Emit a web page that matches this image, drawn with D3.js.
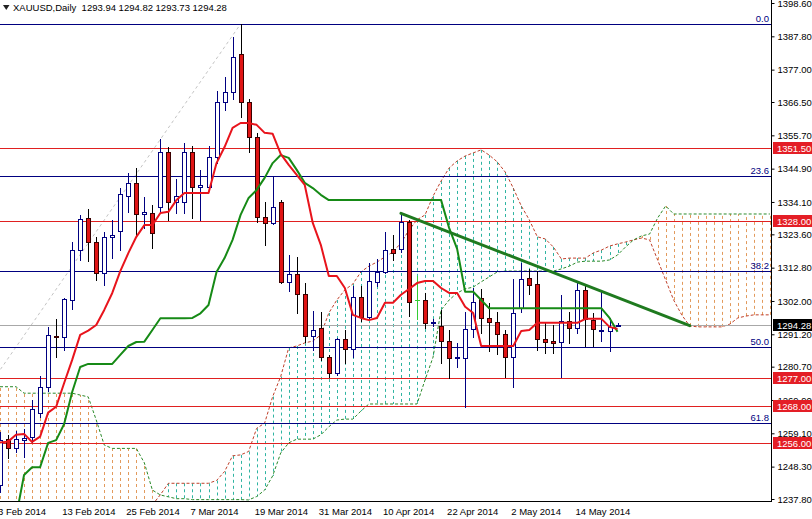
<!DOCTYPE html>
<html><head><meta charset="utf-8">
<script src="https://cdn.jsdelivr.net/npm/d3@7"></script>
<style>
body{margin:0;background:#fff;}
svg{display:block;}
text{font-family:"Liberation Sans",Arial,sans-serif;}
</style>
</head><body>
<svg id="c" width="812" height="519"></svg>
<script>
// ---------- DATA ----------
const headerText = "XAUUSD,Daily  1293.94 1294.82 1293.73 1294.28";
const dates = ["2014-02-03","2014-02-04","2014-02-05","2014-02-06","2014-02-07","2014-02-10","2014-02-11","2014-02-12","2014-02-13","2014-02-14",
"2014-02-17","2014-02-18","2014-02-19","2014-02-20","2014-02-21","2014-02-24","2014-02-25","2014-02-26","2014-02-27","2014-02-28",
"2014-03-03","2014-03-04","2014-03-05","2014-03-06","2014-03-07","2014-03-10","2014-03-11","2014-03-12","2014-03-13","2014-03-14",
"2014-03-17","2014-03-18","2014-03-19","2014-03-20","2014-03-21","2014-03-24","2014-03-25","2014-03-26","2014-03-27","2014-03-28",
"2014-03-31","2014-04-01","2014-04-02","2014-04-03","2014-04-04","2014-04-07","2014-04-08","2014-04-09","2014-04-10","2014-04-11",
"2014-04-14","2014-04-15","2014-04-16","2014-04-17","2014-04-18","2014-04-21","2014-04-22","2014-04-23","2014-04-24","2014-04-25",
"2014-04-28","2014-04-29","2014-04-30","2014-05-01","2014-05-02","2014-05-05","2014-05-06","2014-05-07","2014-05-08","2014-05-09",
"2014-05-12","2014-05-13","2014-05-14","2014-05-15","2014-05-16","2014-05-19","2014-05-20","2014-05-21"];
const openP = [1242.4,1257.3,1254.4,1256.9,1257.9,1265.8,1274.0,1290.8,1290.4,1302.3,
1318.5,1328.8,1321.2,1311.2,1322.6,1324.8,1336.1,1340.2,1330.1,1330.6,
1332.6,1350.2,1334.0,1334.0,1350.2,1339.0,1339.1,1348.6,1366.4,1369.7,
1382.0,1366.4,1355.1,1329.1,1327.2,1334.2,1308.3,1310.7,1304.2,1290.7,
1293.1,1283.8,1278.6,1289.6,1286.3,1303.2,1296.9,1308.0,1311.3,1318.7,
1318.7,1327.5,1302.3,1302.3,1294.8,1293.9,1289.1,1283.4,1283.4,1292.8,
1302.9,1296.4,1295.3,1291.3,1283.9,1299.6,1309.4,1307.5,1289.6,1289.0,
1288.8,1295.5,1293.2,1305.6,1295.8,1292.4,1292.4,1293.94];
const highP = [1259.5,1258.6,1260.0,1260.5,1269.9,1277.7,1293.7,1296.1,1303.0,1321.2,
1329.9,1331.7,1322.8,1324.5,1328.3,1338.6,1343.5,1345.0,1335.8,1333.1,
1354.5,1352.0,1341.5,1353.3,1352.2,1344.5,1352.2,1370.2,1374.5,1387.5,
1391.8,1367.4,1356.4,1334.2,1342.3,1334.7,1316.9,1316.4,1307.7,1298.8,
1298.5,1284.5,1290.0,1292.5,1306.9,1306.9,1314.2,1315.5,1324.3,1323.4,
1330.4,1328.3,1310.0,1304.5,1296.0,1299.1,1292.6,1288.3,1298.5,1306.2,
1305.9,1301.4,1298.5,1292.6,1309.0,1314.2,1312.3,1311.8,1294.8,1294.2,
1303.9,1298.5,1308.3,1307.2,1298.2,1305.0,1296.4,1294.82];
const lowP = [1240.1,1251.0,1253.0,1251.5,1256.3,1264.4,1272.9,1283.8,1286.1,1299.4,
1315.3,1315.0,1308.8,1307.2,1316.0,1318.5,1330.9,1322.8,1325.6,1319.1,
1331.0,1328.3,1330.6,1330.6,1328.8,1328.3,1338.0,1346.6,1364.0,1367.4,
1361.5,1350.4,1327.7,1320.2,1327.0,1307.7,1305.3,1298.0,1288.8,1286.1,
1282.9,1277.5,1278.0,1282.0,1283.8,1295.5,1296.0,1307.0,1311.0,1315.3,
1318.0,1297.0,1296.0,1293.1,1294.0,1281.8,1276.9,1280.7,1267.7,1290.4,
1291.7,1285.9,1284.8,1277.3,1274.0,1298.5,1304.3,1286.1,1285.0,1285.2,
1277.5,1288.5,1291.5,1287.4,1287.4,1289.1,1285.9,1293.73];
const closeP = [1256.9,1254.4,1257.3,1257.6,1267.0,1274.2,1290.9,1290.6,1302.6,1318.5,
1328.5,1321.2,1311.1,1322.6,1323.4,1336.7,1340.2,1330.1,1330.8,1323.9,
1350.2,1334.0,1336.1,1350.2,1338.9,1339.5,1348.6,1366.4,1369.7,1381.0,
1366.4,1355.1,1329.1,1327.2,1332.6,1308.3,1310.7,1304.2,1290.7,1292.6,
1283.8,1278.6,1289.6,1286.3,1303.2,1296.9,1308.5,1311.3,1318.5,1317.5,
1327.5,1301.8,1302.3,1294.8,1295.2,1289.1,1283.4,1283.9,1292.8,1301.8,
1296.4,1295.3,1291.3,1283.9,1298.2,1309.0,1307.2,1289.6,1288.8,1288.5,
1295.5,1293.2,1305.6,1296.1,1292.8,1292.6,1293.5,1294.28];
// Ichimoku
const tenkan = [1256.1,1256.4,1258.6,1258.9,1256.3,1258.0,1265.8,1267.7,1275.4,1282.9,
1291.0,1292.4,1294.2,1299.1,1304.6,1311.7,1317.5,1322.8,1326.6,1326.6,
1330.5,1330.9,1334.7,1337.0,1337.0,1337.0,1337.0,1346.7,1351.9,1358.1,
1359.7,1359.7,1359.1,1356.5,1356.2,1349.7,1346.1,1342.9,1339.6,1327.3,
1320.2,1310.1,1310.1,1306.2,1297.5,1296.5,1295.8,1296.5,1301.4,1301.4,
1304.0,1305.9,1307.8,1308.5,1308.5,1306.2,1304.6,1304.6,1300.1,1298.1,
1287.4,1287.4,1287.4,1287.4,1287.4,1292.3,1292.6,1294.9,1294.9,1294.9,
1294.9,1294.9,1294.9,1296.2,1296.2,1296.2,1293.6,1292.9];
const kijun = [1229.7,1231.2,1232.0,1245.6,1248.1,1248.1,1256.0,1256.9,1262.1,1272.5,
1280.6,1281.6,1281.6,1281.6,1281.6,1284.5,1287.4,1288.7,1288.8,1292.6,
1296.4,1296.4,1296.4,1296.4,1296.5,1298.0,1300.7,1311.4,1315.9,1321.8,
1329.9,1335.4,1338.0,1341.9,1346.7,1349.3,1348.4,1344.5,1340.3,1338.6,
1336.4,1334.7,1334.7,1334.7,1334.7,1334.7,1334.7,1334.7,1334.7,1334.7,
1334.7,1334.7,1334.7,1334.7,1334.7,1334.7,1325.7,1318.9,1305.0,1305.0,
1302.3,1299.6,1299.6,1299.6,1299.6,1299.6,1299.6,1299.6,1299.6,1299.6,
1299.6,1299.6,1299.6,1299.6,1299.6,1299.6,1296.5,1292.0];
// Senkou spans (plotted 26 bars ahead); null = below the visible price range
const spanA = [null,null,null,null,null,null,null,null,null,null,
null,null,null,null,null,null,null,null,null,1235.9,
1239.2,1242.9,1242.9,1242.9,1242.9,1242.9,1242.9,1243.8,1246.7,1251.8,
1252.1,1253.2,1260.7,1262.4,1271.0,1277.5,1286.8,1287.4,1288.4,1289.0,
1291.0,1298.1,1302.3,1305.6,1307.5,1311.4,1313.3,1314.6,1316.3,1317.9,
1320.8,1325.0,1328.3,1329.9,1336.0,1340.9,1345.1,1347.4,1349.0,1350.0,
1351.0,1349.3,1347.1,1343.8,1338.6,1332.8,1328.3,1322.8,1322.1,1319.5,
1315.6,1315.9,1315.9,1315.9,1317.6,1318.5,1319.8,1320.5,1321.1,1321.8,
1322.4,1321.8,1315.3,1308.8,1302.3,1297.5,1293.9,1293.6,1293.6,1293.6,
1293.6,1294.5,1296.5,1297.1,1297.5,1297.5,1297.5];
const spanB = [1274.2,1274.2,1274.2,1272.1,1272.1,1272.1,1272.1,1272.1,1272.1,1272.1,
1271.5,1270.9,1263.4,1255.3,1254.2,1254.2,1254.2,1254.2,1249.5,1240.7,
1239.1,1238.5,1237.9,1237.9,1237.6,1237.6,1237.6,1237.6,1237.6,1237.6,
1237.6,1237.5,1238.6,1240.7,1245.3,1252.7,1256.0,1257.2,1257.2,1257.2,
1258.6,1261.2,1263.4,1263.7,1263.7,1266.3,1268.6,1268.6,1268.6,1268.6,
1268.6,1268.6,1268.6,1276.4,1283.8,1299.1,1302.3,1304.6,1305.9,1306.5,
1308.2,1309.8,1311.4,1311.7,1311.7,1311.7,1311.7,1311.7,1311.7,1311.7,
1312.4,1313.3,1314.6,1314.9,1314.9,1314.9,1315.3,1316.9,1319.5,1321.8,
1323.1,1323.7,1328.9,1332.8,1330.2,1330.2,1330.2,1330.2,1330.2,1330.2,
1330.2,1330.2,1330.2,1330.2,1330.2,1330.2,1330.2];
// Axis ticks
const priceTicks = [1398.60,1387.80,1377.00,1366.50,1355.70,1344.90,1334.10,1323.60,1312.80,1302.00,1291.20,1280.70,1269.90,1259.10,1248.30,1237.80];
const dateTickIdx = [0,8,16,24,32,40,48,56,64,72];
// Horizontal support / resistance levels
const srLevels = [1351.50,1328.00,1277.00,1268.00,1256.00];
const lastPrice = 1294.28;
// Fibonacci retracement (low of late Dec 2013 -> high of 17 Mar 2014)
const fibLow = 1182.4, fibLowIdx = -26, fibHigh = 1391.8, fibHighIdx = 30;
const fibLevels = [0.0, 23.6, 38.2, 50.0, 61.8];
// Trend line (bar index, price)
const trendIdx = [50, 86];
const trendPrice = [1330.4, 1294.0];

// ---------- LAYOUT ----------
const plotR = 771, plotB = 501;
const svg = d3.select('#c');
const x = d3.scaleLinear().domain([0, 96]).range([0, 769.9]);
const y = d3.scaleLinear().domain([1237.8, 1398.6]).range([499, 3]);
const px = i => Math.round(x(i));
const C = {bull:'#000080', bearFill:'#e01414', bearLine:'#3a0000', tenkan:'#e8141c', kijun:'#168a16',
  spanA:'#c0402a', spanB:'#2a8a2a', hatchOr:'#e29a5c', hatchTe:'#2fb4a2', fib:'#000080', sr:'#e02020', trend:'#1f7a1f'};

svg.append('rect').attr('width',812).attr('height',519).attr('fill','#fff');
svg.append('defs').append('clipPath').attr('id','clip')
  .append('rect').attr('x',0).attr('y',0).attr('width',plotR).attr('height',plotB);
const plot = svg.append('g').attr('clip-path','url(#clip)');

// Cloud hatch
const cloudIdx = d3.range(spanB.length);
plot.append('g').selectAll('line').data(cloudIdx).join('line')
  .attr('x1', i => px(i)+0.5).attr('x2', i => px(i)+0.5)
  .attr('y1', i => spanA[i]==null ? plotB+4 : y(spanA[i]))
  .attr('y2', i => y(spanB[i]))
  .style('stroke', i => (spanA[i]==null || spanB[i] > spanA[i]) ? C.hatchOr : C.hatchTe)
  .attr('stroke-width',1).attr('stroke-dasharray','3,3');

const lineGen = d3.line().defined(d => d!=null).x((d,i)=>x(i)).y(d=>y(d));
plot.append('path').attr('d', lineGen(spanA)).attr('fill','none').attr('stroke',C.spanA).attr('stroke-width',1).attr('stroke-dasharray','3,2');
plot.append('path').attr('d', lineGen(spanB)).attr('fill','none').attr('stroke',C.spanB).attr('stroke-width',1).attr('stroke-dasharray','3,2');

// Fib diagonal
plot.append('line').attr('x1',x(fibLowIdx)).attr('y1',y(fibLow)).attr('x2',x(fibHighIdx)).attr('y2',y(fibHigh))
  .attr('stroke','#c4c4c4').attr('stroke-width',1).attr('stroke-dasharray','3,3');

// Horizontal lines
const fibPrice = l => fibHigh - (fibHigh - fibLow) * l / 100;
plot.append('g').selectAll('line').data(fibLevels).join('line')
  .attr('x1',0).attr('x2',plotR).attr('y1',d=>Math.round(y(fibPrice(d)))+0.5).attr('y2',d=>Math.round(y(fibPrice(d)))+0.5)
  .attr('stroke',C.fib).attr('stroke-width',1);
plot.append('g').selectAll('line').data(srLevels).join('line')
  .attr('x1',0).attr('x2',plotR).attr('y1',d=>Math.round(y(d))+0.5).attr('y2',d=>Math.round(y(d))+0.5)
  .attr('stroke',C.sr).attr('stroke-width',1);
plot.append('line').attr('x1',0).attr('x2',plotR).attr('y1',Math.round(y(lastPrice))+0.5).attr('y2',Math.round(y(lastPrice))+0.5)
  .attr('stroke','#a8a8a8').attr('stroke-width',1);

// Candles
const candles = dates.map((d,i)=>({i, o:openP[i], h:highP[i], l:lowP[i], c:closeP[i]}));
const cg = plot.append('g');
const col = d => d.c > d.o ? C.bull : (d.c < d.o ? '#000' : '#33cc33');
cg.selectAll('line.w').data(candles).join('line').attr('class','w')
  .attr('x1',d=>px(d.i)+0.5).attr('x2',d=>px(d.i)+0.5)
  .attr('y1',d=>Math.round(y(d.h))).attr('y2',d=>Math.round(y(d.l))+1)
  .attr('stroke',col).attr('stroke-width',1);
cg.selectAll('rect.b').data(candles.filter(d=>d.o!==d.c)).join('rect').attr('class','b')
  .attr('x',d=>px(d.i)-1.5).attr('width',4)
  .attr('y',d=>Math.round(y(Math.max(d.o,d.c)))+0.5)
  .attr('height',d=>Math.max(1, Math.round(y(Math.min(d.o,d.c))) - Math.round(y(Math.max(d.o,d.c)))))
  .attr('fill',d=>d.c>d.o?'#fff':C.bearFill)
  .attr('stroke',d=>d.c>d.o?C.bull:C.bearLine).attr('stroke-width',1);
cg.selectAll('line.d').data(candles.filter(d=>d.o===d.c)).join('line').attr('class','d')
  .attr('x1',d=>px(d.i)-2).attr('x2',d=>px(d.i)+3)
  .attr('y1',d=>Math.round(y(d.o))+0.5).attr('y2',d=>Math.round(y(d.o))+0.5)
  .attr('stroke','#33cc33').attr('stroke-width',1);

// Tenkan / Kijun
plot.append('path').attr('d', lineGen(kijun)).attr('fill','none').attr('stroke',C.kijun).attr('stroke-width',2).attr('stroke-linejoin','round');
plot.append('path').attr('d', lineGen(tenkan)).attr('fill','none').attr('stroke',C.tenkan).attr('stroke-width',2).attr('stroke-linejoin','round');

// Trend line
plot.append('line').attr('x1',x(trendIdx[0])).attr('y1',y(trendPrice[0])).attr('x2',x(trendIdx[1])).attr('y2',y(trendPrice[1]))
  .attr('stroke',C.trend).attr('stroke-width',3).attr('stroke-linecap','round');

// Fib labels
svg.append('g').selectAll('text').data(fibLevels).join('text')
  .attr('x',plotR-2).attr('y',d=>Math.round(y(fibPrice(d)))-2.5)
  .attr('text-anchor','end').attr('font-size',9.5).attr('fill',C.fib)
  .text(d=>d.toFixed(1));

// Axes frame
svg.append('line').attr('x1',plotR+0.5).attr('x2',plotR+0.5).attr('y1',0).attr('y2',plotB+1).attr('stroke','#000');
svg.append('line').attr('x1',0).attr('x2',plotR+1).attr('y1',plotB+0.5).attr('y2',plotB+0.5).attr('stroke','#000');

// Price axis
const yAxis = d3.axisRight(y).tickValues(priceTicks).tickFormat(d3.format('.2f')).tickSize(3).tickPadding(3);
const ya = svg.append('g').attr('transform',`translate(${plotR+0.5},0)`).call(yAxis)
  .attr('font-family','"Liberation Sans",Arial,sans-serif').attr('font-size',9.5);
ya.select('.domain').remove();
ya.selectAll('text').attr('fill','#000');
ya.selectAll('line').attr('stroke','#000');

// Date axis
const parse = d3.timeParse('%Y-%m-%d'), fmt = d3.timeFormat('%-d %b %Y');
const xAxis = d3.axisBottom(x).tickValues(dateTickIdx).tickFormat(i=>fmt(parse(dates[i]))).tickSize(0).tickPadding(7);
const xa = svg.append('g').attr('transform',`translate(0,${plotB})`).call(xAxis)
  .attr('font-family','"Liberation Sans",Arial,sans-serif').attr('font-size',9.5);
xa.select('.domain').remove();
xa.selectAll('text').attr('text-anchor','start').attr('x',-2.5).attr('fill','#000');

// Price boxes
const boxes = srLevels.map(p=>({p, bg:'#e41e26'})).concat([{p:lastPrice, bg:'#000'}]);
const bx = svg.append('g');
bx.selectAll('rect').data(boxes).join('rect')
  .attr('x',plotR+2).attr('width',812-plotR-2).attr('y',d=>Math.round(y(d.p))-6).attr('height',12).attr('fill',d=>d.bg);
bx.selectAll('text').data(boxes).join('text')
  .attr('x',plotR+6).attr('y',d=>Math.round(y(d.p))+3.5).attr('font-size',9.5).attr('fill','#fff')
  .text(d=>d.p.toFixed(2));

// Header
svg.append('path').attr('d','M3,5 L9.5,5 L6.25,10 Z').attr('fill','#222');
svg.append('text').attr('x',13).attr('y',11).attr('font-size',9.5).attr('fill','#000')
  .style('white-space','pre').text(headerText);
</script>
</body></html>
